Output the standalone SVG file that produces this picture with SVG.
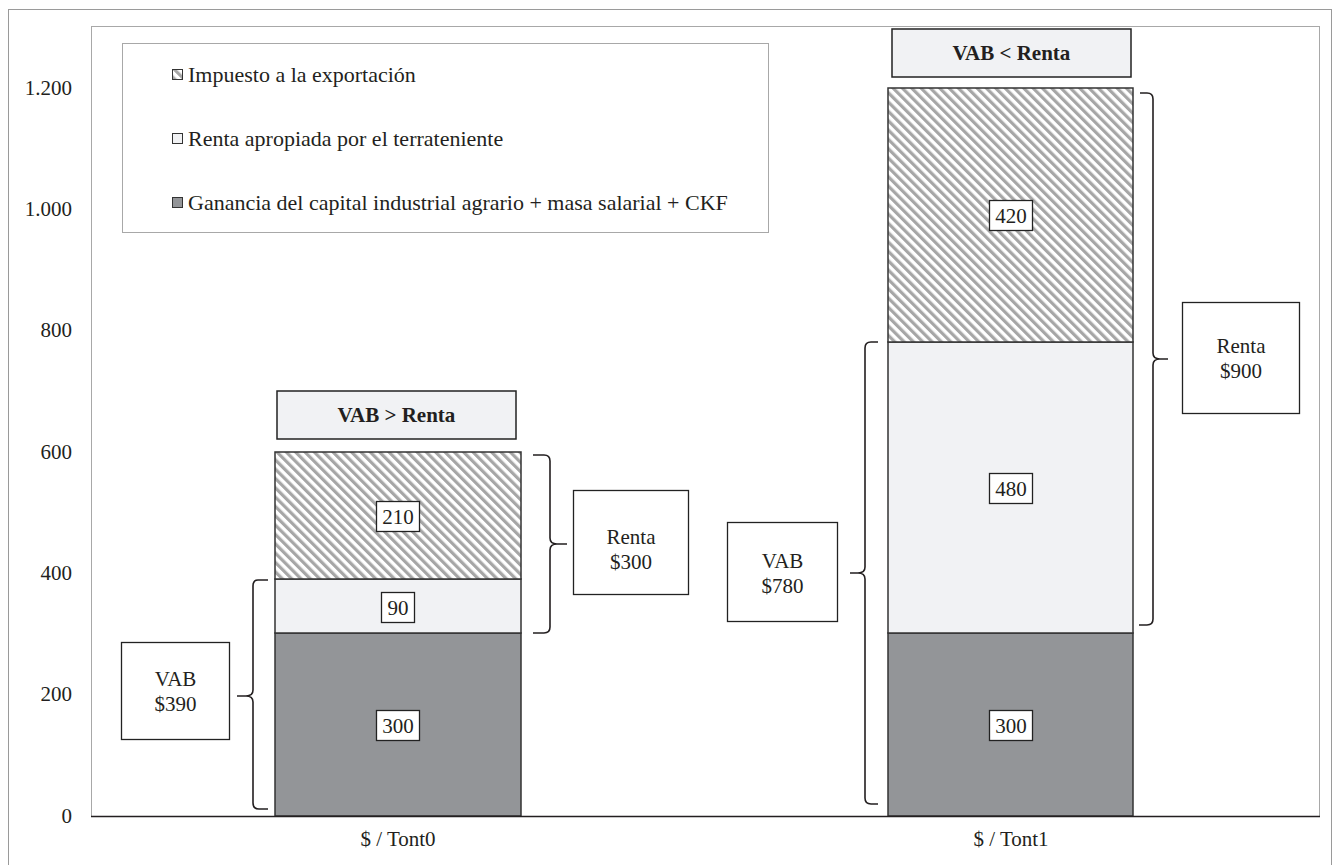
<svg xmlns="http://www.w3.org/2000/svg" width="1333" height="865" viewBox="0 0 1333 865">
<defs>
<pattern id="hatch" patternUnits="userSpaceOnUse" width="6.6" height="6.6" patternTransform="rotate(-45)">
<rect width="6.6" height="6.6" fill="#ffffff"/>
<rect x="0" y="0" width="3.2" height="6.6" fill="#a6a6a6"/>
</pattern>
<style>
text{font-family:"Liberation Serif","Times New Roman",serif;fill:#231f20}
.ax{font-size:21px;text-anchor:end}
.lg{font-size:22px}
.lbl{font-size:21px;text-anchor:middle}
.ttl{font-size:21px;font-weight:bold;text-anchor:middle}
.bar{stroke:#333;stroke-width:1.5}
.dark{fill:#939598}
.light{fill:#f1f2f4}
.hat{fill:url(#hatch)}
.box{fill:#fff;stroke:#222;stroke-width:1.3}
.tbox{fill:#f1f2f4;stroke:#222;stroke-width:1.5}
.brace{fill:none;stroke:#231f20;stroke-width:1.6}
</style>
</defs>
<rect x="0" y="0" width="1333" height="865" fill="#fff"/>
<rect x="8.5" y="9.5" width="1323" height="870" fill="none" stroke="#9a9a9a" stroke-width="1"/>
<rect x="91.5" y="26.5" width="1228" height="790" fill="none" stroke="#a8a8a8" stroke-width="1"/>
<g id="yaxis">
<text class="ax" x="72" y="95">1.200</text>
<text class="ax" x="72" y="216">1.000</text>
<text class="ax" x="72" y="337">800</text>
<text class="ax" x="72" y="459">600</text>
<text class="ax" x="72" y="580">400</text>
<text class="ax" x="72" y="701">200</text>
<text class="ax" x="72" y="823">0</text>
</g>
<g id="legend">
<rect x="122.5" y="43.5" width="646" height="189" fill="#fff" stroke="#a8a8a8" stroke-width="1"/>
<rect x="172.5" y="69.5" width="10" height="10" class="hat" stroke="#333" stroke-width="1"/>
<text class="lg" x="188" y="82">Impuesto a la exportación</text>
<rect x="172.5" y="133.5" width="10" height="10" class="light" stroke="#333" stroke-width="1"/>
<text class="lg" x="188" y="146">Renta apropiada por el terrateniente</text>
<rect x="172.5" y="197.5" width="10" height="10" class="dark" stroke="#333" stroke-width="1"/>
<text class="lg" x="188" y="210">Ganancia del capital industrial agrario + masa salarial + CKF</text>
</g>
<g id="bar-tont0">
<rect class="bar dark" x="275" y="633" width="246" height="183"/>
<rect class="bar light" x="275" y="579" width="246" height="54"/>
<rect class="bar hat" x="275" y="452" width="246" height="127"/>
<rect class="box" x="376.5" y="710.5" width="43" height="30"/>
<text class="lbl" x="398" y="733">300</text>
<rect class="box" x="381.5" y="592.5" width="33" height="30"/>
<text class="lbl" x="398" y="615">90</text>
<rect class="box" x="376.5" y="501.5" width="43" height="30"/>
<text class="lbl" x="398" y="524">210</text>
</g>
<g id="bar-tont1">
<rect class="bar dark" x="888" y="633" width="245" height="183"/>
<rect class="bar light" x="888" y="342" width="245" height="291"/>
<rect class="bar hat" x="888" y="88" width="245" height="254"/>
<rect class="box" x="989.5" y="710.5" width="43" height="30"/>
<text class="lbl" x="1011" y="733">300</text>
<rect class="box" x="989.5" y="473.5" width="43" height="30"/>
<text class="lbl" x="1011" y="496">480</text>
<rect class="box" x="989.5" y="200.5" width="43" height="30"/>
<text class="lbl" x="1011" y="223">420</text>
</g>
<g id="title-tont0">
<rect class="tbox" x="277" y="391" width="239" height="48"/>
<text class="ttl" x="396.5" y="422">VAB &gt; Renta</text>
</g>
<g id="title-tont1">
<rect class="tbox" x="892" y="29" width="239" height="48"/>
<text class="ttl" x="1011.5" y="60">VAB &lt; Renta</text>
</g>
<g id="connectors">
<path class="brace" d="M268,580 H258 Q253,580 253,586 V690 Q253,696 246,696 H237 M246,696 Q253,696 253,702 V803 Q253,809 259,809 H268"/>
<path class="brace" d="M533,455 H544 Q550,455 550,461 V538 Q550,544 557,544 H567 M557,544 Q550,544 550,550 V627 Q550,633 544,633 H533"/>
<path class="brace" d="M878,342 H871 Q865,342 865,348 V567 Q865,573 858,573 H850 M858,573 Q865,573 865,579 V798 Q865,804 871,804 H878"/>
<path class="brace" d="M1140,93 H1147 Q1153,93 1153,99 V353 Q1153,359 1160,359 H1168 M1160,359 Q1153,359 1153,365 V619 Q1153,625 1147,625 H1139"/>
</g>
<g id="note-vab390">
<rect class="box" x="121.5" y="642.5" width="108" height="97"/>
<text class="lbl" x="175.5" y="686">VAB</text>
<text class="lbl" x="175.5" y="711">$390</text>
</g>
<g id="note-renta300">
<rect class="box" x="573.5" y="490.5" width="115" height="104"/>
<text class="lbl" x="631" y="544">Renta</text>
<text class="lbl" x="631" y="569">$300</text>
</g>
<g id="note-vab780">
<rect class="box" x="727.5" y="522.5" width="110" height="99"/>
<text class="lbl" x="782.5" y="568">VAB</text>
<text class="lbl" x="782.5" y="593">$780</text>
</g>
<g id="note-renta900">
<rect class="box" x="1182.5" y="302.5" width="117" height="111"/>
<text class="lbl" x="1241" y="353">Renta</text>
<text class="lbl" x="1241" y="378">$900</text>
</g>
<line x1="91" y1="816.5" x2="1320" y2="816.5" stroke="#231f20" stroke-width="1.6"/>
<g id="xaxis">
<text class="lbl" x="398" y="846">$ / Tont0</text>
<text class="lbl" x="1011" y="846">$ / Tont1</text>
</g>
</svg>
